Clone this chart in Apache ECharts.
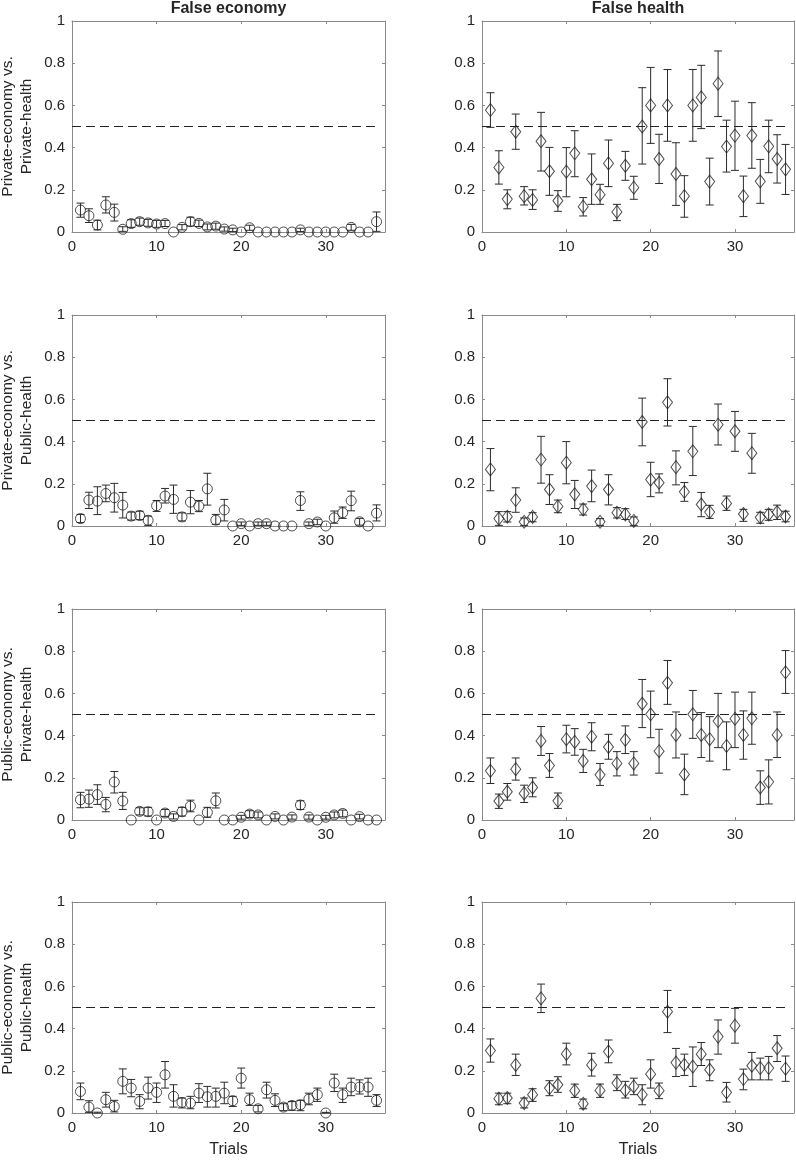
<!DOCTYPE html>
<html>
<head>
<meta charset="utf-8">
<script src="https://cdn.jsdelivr.net/npm/echarts@6/dist/echarts.min.js"></script>
<style>
  html, body { margin: 0; padding: 0; background: #fff; }
  #main { width: 796px; height: 1161px; }
</style>
</head>
<body>
<div id="main"></div>
<script>
// trial numbers on the x axis
var trials = [1,2,3,4,5,6,7,8,9,10,11,12,13,14,15,16,17,18,19,20,21,22,23,24,25,26,27,28,29,30,31,32,33,34,35,36];
var chanceLine = [[0, 0.5], [36, 0.5]]; // dashed chance level
var colTitles = ['False economy', 'False health'];
var rowTitles = ['Private-economy vs.\nPrivate-health', 'Private-economy vs.\nPublic-health',
                 'Public-economy vs.\nPrivate-health', 'Public-economy vs.\nPublic-health'];

// row 1: private-economy vs private-health
var r1EconMean = [0.104,0.077,0.033,0.128,0.093,0.013,0.040,0.049,0.043,0.038,0.040,0,0.022,0.049,0.041,0.024,0.028,0.014,0.010,0,0.020,0,0,0,0,0,0.010,0,0,0,0,0,0.022,0,0,0.049];
var r1EconLo   = [0.070,0.045,0.010,0.090,0.052,0.003,0.022,0.032,0.027,0.022,0.026,0,0.010,0.028,0.026,0.010,0.013,0.004,0.002,0,0.008,0,0,0,0,0,0.002,0,0,0,0,0,0.008,0,0,0.003];
var r1EconHi   = [0.137,0.110,0.056,0.167,0.132,0.025,0.058,0.066,0.060,0.055,0.055,0,0.035,0.070,0.056,0.038,0.042,0.024,0.018,0,0.032,0,0,0,0,0,0.018,0,0,0,0,0,0.036,0,0,0.095];
var r1HealthMean = [0.578,0.306,0.156,0.475,0.170,0.152,0.430,0.288,0.148,0.286,0.373,0.120,0.250,0.177,0.325,0.095,0.314,0.210,0.500,0.600,0.346,0.600,0.275,0.170,0.600,0.638,0.239,0.703,0.405,0.457,0.170,0.457,0.240,0.406,0.346,0.297];
var r1HealthLo   = [0.496,0.227,0.110,0.392,0.128,0.107,0.289,0.174,0.098,0.167,0.262,0.076,0.131,0.131,0.215,0.054,0.245,0.155,0.322,0.420,0.230,0.430,0.126,0.070,0.430,0.490,0.128,0.547,0.284,0.292,0.073,0.302,0.136,0.281,0.232,0.178];
var r1HealthHi   = [0.660,0.385,0.200,0.559,0.215,0.200,0.567,0.401,0.196,0.400,0.480,0.163,0.370,0.226,0.436,0.131,0.382,0.264,0.684,0.780,0.463,0.770,0.423,0.267,0.770,0.790,0.350,0.858,0.530,0.620,0.265,0.613,0.344,0.530,0.461,0.415];

// row 2: private-economy vs public-health
var r2EconMean = [0.035,0.123,0.118,0.154,0.134,0.099,0.047,0.050,0.027,0.096,0.142,0.126,0.043,0.113,0.094,0.176,0.028,0.076,0,0.011,0,0.011,0.011,0,0,0,0.121,0.011,0.019,0,0.039,0.063,0.120,0.020,0,0.061];
var r2EconLo   = [0.016,0.083,0.054,0.115,0.066,0.038,0.028,0.030,0.003,0.069,0.109,0.060,0.024,0.058,0.068,0.099,0.008,0.024,0,0.003,0,0.003,0.003,0,0,0,0.074,0.003,0.006,0,0.013,0.036,0.072,0.004,0,0.024];
var r2EconHi   = [0.055,0.160,0.186,0.194,0.202,0.159,0.066,0.070,0.047,0.121,0.178,0.194,0.062,0.168,0.121,0.250,0.055,0.126,0,0.019,0,0.019,0.019,0,0,0,0.162,0.019,0.032,0,0.071,0.090,0.165,0.036,0,0.100];
var r2HealthMean = [0.268,0.035,0.044,0.123,0.020,0.043,0.315,0.173,0.093,0.300,0.150,0.079,0.189,0.020,0.173,0.063,0.055,0.024,0.493,0.220,0.205,0.586,0.279,0.162,0.354,0.102,0.066,0.480,0.107,0.449,0.057,0.345,0.041,0.055,0.066,0.045];
var r2HealthLo   = [0.167,0.003,0.019,0.065,0.003,0.020,0.203,0.102,0.063,0.200,0.083,0.052,0.115,0.003,0.100,0.038,0.031,0.003,0.380,0.139,0.157,0.474,0.195,0.117,0.239,0.044,0.036,0.384,0.074,0.354,0.022,0.250,0.013,0.027,0.031,0.020];
var r2HealthHi   = [0.367,0.068,0.068,0.181,0.038,0.063,0.425,0.243,0.123,0.400,0.216,0.104,0.265,0.035,0.243,0.087,0.082,0.043,0.606,0.302,0.247,0.698,0.356,0.206,0.472,0.159,0.098,0.578,0.142,0.543,0.079,0.439,0.065,0.079,0.099,0.070];

// row 3: public-economy vs private-health
var r3EconMean = [0.096,0.099,0.120,0.074,0.180,0.090,0,0.041,0.039,0,0.033,0.017,0.039,0.066,0,0.036,0.091,0,0,0.013,0.028,0.024,0,0.017,0,0.014,0.071,0.014,0,0.013,0.024,0.031,0,0.016,0,0];
var r3EconLo   = [0.058,0.060,0.074,0.039,0.128,0.050,0,0.024,0.019,0,0.017,0.005,0.019,0.039,0,0.013,0.057,0,0,0.004,0.012,0.010,0,0.005,0,0.004,0.050,0.004,0,0.004,0.010,0.015,0,0.005,0,0];
var r3EconHi   = [0.131,0.142,0.167,0.107,0.230,0.131,0,0.058,0.060,0,0.050,0.029,0.060,0.094,0,0.060,0.128,0,0,0.022,0.044,0.038,0,0.029,0,0.024,0.091,0.024,0,0.022,0.038,0.047,0,0.027,0,0];
var r3HealthMean = [0.233,0.090,0.134,0.241,0.126,0.154,0.375,0.258,0.091,0.383,0.370,0.280,0.395,0.214,0.346,0.268,0.380,0.268,0.551,0.501,0.326,0.650,0.403,0.216,0.501,0.403,0.383,0.469,0.351,0.480,0.403,0.482,0.154,0.181,0.403,0.700];
var r3HealthLo   = [0.173,0.055,0.094,0.189,0.083,0.110,0.306,0.202,0.055,0.318,0.307,0.225,0.328,0.164,0.288,0.209,0.315,0.213,0.438,0.390,0.222,0.548,0.294,0.120,0.387,0.296,0.279,0.343,0.238,0.343,0.288,0.359,0.074,0.076,0.296,0.600];
var r3HealthHi   = [0.294,0.123,0.173,0.294,0.165,0.200,0.443,0.315,0.128,0.449,0.433,0.335,0.461,0.268,0.406,0.324,0.446,0.324,0.666,0.611,0.430,0.756,0.512,0.312,0.614,0.509,0.490,0.600,0.465,0.606,0.517,0.606,0.233,0.285,0.512,0.803];

// row 4: public-economy vs public-health
var r4EconMean = [0.102,0.028,0,0.063,0.031,0.150,0.118,0.055,0.118,0.098,0.181,0.079,0.050,0.047,0.094,0.077,0.079,0.094,0.058,0.165,0.063,0.020,0.110,0.060,0.028,0.036,0.039,0.066,0.087,0,0.142,0.087,0.123,0.123,0.123,0.060];
var r4EconLo   = [0.063,0.003,0,0.028,0.005,0.091,0.077,0.020,0.066,0.050,0.118,0.028,0.024,0.020,0.050,0.028,0.028,0.044,0.031,0.118,0.036,0.005,0.071,0.031,0.011,0.013,0.011,0.039,0.055,0,0.102,0.050,0.082,0.090,0.079,0.031];
var r4EconHi   = [0.142,0.058,0.004,0.098,0.060,0.209,0.159,0.087,0.170,0.142,0.244,0.134,0.071,0.079,0.139,0.126,0.118,0.146,0.079,0.213,0.094,0.036,0.146,0.091,0.044,0.054,0.060,0.094,0.118,0.003,0.184,0.118,0.165,0.157,0.165,0.087];
var r4HealthMean = [0.296,0.068,0.071,0.228,0.047,0.087,0.543,0.118,0.134,0.280,0.106,0.044,0.228,0.107,0.291,0.142,0.107,0.126,0.087,0.184,0.106,0.480,0.239,0.228,0.220,0.279,0.205,0.362,0.098,0.414,0.161,0.224,0.213,0.213,0.307,0.210];
var r4HealthLo   = [0.241,0.039,0.044,0.178,0.024,0.055,0.476,0.082,0.098,0.228,0.074,0.020,0.175,0.074,0.238,0.106,0.071,0.087,0.039,0.118,0.068,0.381,0.173,0.178,0.126,0.225,0.153,0.279,0.052,0.331,0.110,0.157,0.157,0.157,0.244,0.150];
var r4HealthHi   = [0.351,0.094,0.094,0.279,0.071,0.115,0.611,0.153,0.172,0.331,0.137,0.066,0.283,0.137,0.346,0.181,0.150,0.165,0.134,0.252,0.142,0.581,0.306,0.279,0.313,0.334,0.252,0.441,0.145,0.496,0.208,0.287,0.260,0.268,0.367,0.270];

var panels = [
  { row: 0, col: 0, mean: r1EconMean, lo: r1EconLo, hi: r1EconHi },
  { row: 0, col: 1, mean: r1HealthMean, lo: r1HealthLo, hi: r1HealthHi },
  { row: 1, col: 0, mean: r2EconMean, lo: r2EconLo, hi: r2EconHi },
  { row: 1, col: 1, mean: r2HealthMean, lo: r2HealthLo, hi: r2HealthHi },
  { row: 2, col: 0, mean: r3EconMean, lo: r3EconLo, hi: r3EconHi },
  { row: 2, col: 1, mean: r3HealthMean, lo: r3HealthLo, hi: r3HealthHi },
  { row: 3, col: 0, mean: r4EconMean, lo: r4EconLo, hi: r4EconHi },
  { row: 3, col: 1, mean: r4HealthMean, lo: r4HealthLo, hi: r4HealthHi }
];

// layout
var FONT = '"Liberation Sans", Arial, Helvetica, sans-serif';
var gridLeft = [72, 482], gridW = [313, 312];
var gridTop = [21, 315, 609, 902], gridH = 211;
var axisGrey = '#8a8a8a', textCol = '#262626', markCol = '#222';

var grids = [], xAxes = [], yAxes = [], series = [];

panels.forEach(function (p, k) {
  grids.push({ left: gridLeft[p.col], top: gridTop[p.row], width: gridW[p.col], height: gridH, show: false });
  var lastRow = p.row === 3;
  var common = {
    type: 'value', gridIndex: k, splitLine: { show: false },
    axisLine: { show: true, onZero: false, lineStyle: { color: axisGrey, width: 1 } },
    axisTick: { show: true, inside: true, length: 3, lineStyle: { color: axisGrey } }
  };
  xAxes.push(Object.assign({}, common, {
    position: 'bottom', min: 0, max: 37, interval: 10,
    axisLabel: { show: true, showMaxLabel: false, color: textCol, fontSize: 15, fontFamily: FONT, margin: 7 },
    name: lastRow ? 'Trials' : '', nameLocation: 'middle', nameGap: 29,
    nameTextStyle: { color: textCol, fontSize: 16, fontFamily: FONT }
  }));
  xAxes.push(Object.assign({}, common, {
    position: 'top', min: 0, max: 37, interval: 10, axisLabel: { show: false }
  }));
  yAxes.push(Object.assign({}, common, {
    position: 'left', min: 0, max: 1, interval: 0.2,
    axisLabel: { show: true, color: textCol, fontSize: 15, fontFamily: FONT, margin: 7 }
  }));
  yAxes.push(Object.assign({}, common, {
    position: 'right', min: 0, max: 1, interval: 0.2, axisLabel: { show: false }
  }));

  var ax = 2 * k;
  var barData = trials.map(function (t, i) { return [t, p.lo[i], p.hi[i]]; });
  var ptData = trials.map(function (t, i) { return [t, p.mean[i]]; });

  // dashed chance line
  series.push({
    type: 'line', xAxisIndex: ax, yAxisIndex: ax, data: chanceLine, symbol: 'none',
    lineStyle: { color: markCol, width: 1, type: [9, 5] }, silent: true, z: 1
  });
  // error bars
  series.push({
    type: 'custom', xAxisIndex: ax, yAxisIndex: ax, data: barData, z: 2,
    encode: { x: 0, y: [1, 2] },
    renderItem: function (params, api) {
      var x = api.value(0), lo = api.value(1), hi = api.value(2);
      if (!(hi > lo)) return null;
      var a = api.coord([x, lo]), b = api.coord([x, hi]);
      var w = 4, st = { stroke: '#2b2b2b', lineWidth: 1 };
      return {
        type: 'group',
        children: [
          { type: 'line', shape: { x1: a[0], y1: a[1], x2: b[0], y2: b[1] }, style: st },
          { type: 'line', shape: { x1: a[0] - w, y1: a[1], x2: a[0] + w, y2: a[1] }, style: st },
          { type: 'line', shape: { x1: b[0] - w, y1: b[1], x2: b[0] + w, y2: b[1] }, style: st }
        ]
      };
    }
  });
  // markers
  series.push({
    type: 'scatter', xAxisIndex: ax, yAxisIndex: ax, data: ptData, z: 3,
    symbol: p.col === 0 ? 'circle' : 'diamond',
    symbolSize: p.col === 0 ? 10 : [10, 13],
    itemStyle: { color: 'rgba(0,0,0,0)', borderColor: markCol, borderWidth: 1 }
  });
});

var graphics = [];
colTitles.forEach(function (t, c) {
  graphics.push({
    type: 'text', x: gridLeft[c] + gridW[c] / 2, y: 9,
    style: { text: t, fill: textCol, font: 'bold 16px ' + FONT, textAlign: 'center', textVerticalAlign: 'middle' }
  });
});
rowTitles.forEach(function (t, r) {
  graphics.push({
    type: 'text', x: 17, y: gridTop[r] + gridH / 2, rotation: Math.PI / 2,
    style: { text: t, fill: textCol, font: '15.5px ' + FONT, lineHeight: 19, textAlign: 'center', textVerticalAlign: 'middle' }
  });
});

var myChart = echarts.init(document.getElementById('main'));
myChart.setOption({
  animation: false,
  backgroundColor: '#fff',
  grid: grids,
  xAxis: xAxes,
  yAxis: yAxes,
  graphic: graphics,
  series: series
});
</script>
</body>
</html>
